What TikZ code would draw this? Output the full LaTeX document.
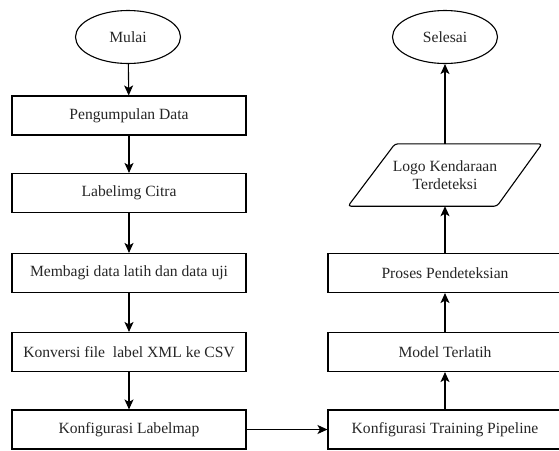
\documentclass[tikz,border=0pt]{standalone}
\usepackage{fontspec}
\setmainfont{Liberation Serif}
\usetikzlibrary{shapes.geometric,arrows.meta,calc}
\begin{document}
\begin{tikzpicture}[x=1pt,y=-1pt,
  every node/.style={font=\fontsize{15.6}{18.5}\selectfont, text=black!85},
  procbox/.style={draw, line width=1.1pt, minimum width=234pt, minimum height=39pt, inner sep=0pt},
  term/.style={draw, ellipse, line width=1.1pt, minimum width=105pt, minimum height=53pt, inner sep=0pt},
  flow/.style={-{Stealth[length=10pt,width=9pt,inset=2.5pt]}, line width=1.1pt}
]
\useasboundingbox (0,0) rectangle (559,450);
\clip (0,0) rectangle (559,450);
\fill[white] (0,0) rectangle (559,450);
% left column
\node[term] (mulai) at (128,37) {Mulai};
\node[procbox] (p1) at (129,115.5) {Pengumpulan Data};
\node[procbox] (p2) at (129,193) {Labelimg Citra};
\node[procbox] (p3) at (129,273) {Membagi data latih dan data uji};
\node[procbox] (p4) at (129,352) {Konversi file\ \ label XML ke CSV};
\node[procbox] (p5) at (129,429.5) {Konfigurasi Labelmap};
% right column
\node[procbox] (q1) at (445,429.5) {Konfigurasi Training Pipeline};
\node[procbox] (q2) at (445,352) {Model Terlatih};
\node[procbox] (q3) at (445,273) {Proses Pendeteksian};
\node[align=center, minimum width=100pt, minimum height=62pt, inner sep=0pt] (out) at (445,175) {Logo Kendaraan\\Terdeteksi};
\draw[line width=1.1pt, rounded corners=3pt]
  ($(out.south)+(-97,0)$) -- ($(out.north)+(-50,0)$) -- ($(out.north)+(97,0)$) -- ($(out.south)+(52,0)$) -- cycle;
\node[term] (selesai) at (445,37) {Selesai};
% connectors
\draw[flow] (mulai) -- (p1);
\draw[flow] (p1) -- (p2);
\draw[flow] (p2) -- (p3);
\draw[flow] (p3) -- (p4);
\draw[flow] (p4) -- (p5);
\draw[flow] (p5) -- (q1);
\draw[flow] (q1) -- (q2);
\draw[flow] (q2) -- (q3);
\draw[flow] (q3) -- (out);
\draw[flow] (out) -- (selesai);
\end{tikzpicture}
\end{document}
